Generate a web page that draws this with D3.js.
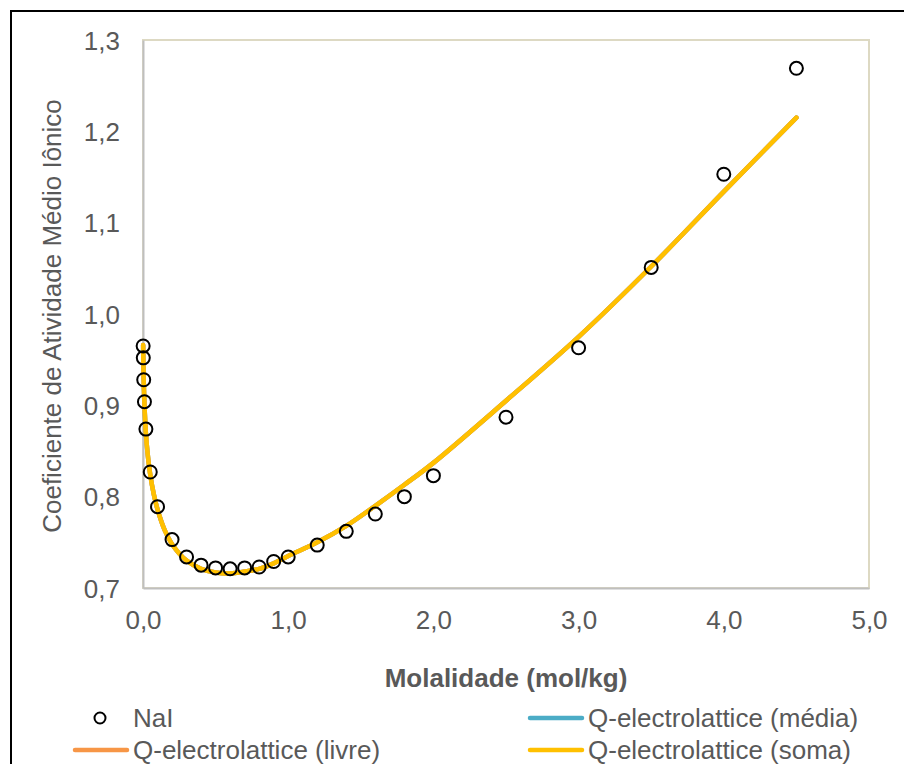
<!DOCTYPE html>
<html>
<head>
<meta charset="utf-8">
<script src="https://cdn.jsdelivr.net/npm/d3@7"></script>
<style>
  html, body { margin: 0; padding: 0; background: #fff; }
  svg { display: block; }
  text { font-family: "Liberation Sans", Arial, sans-serif; fill: #595959; }
</style>
</head>
<body>
<svg id="chart" width="904" height="764"></svg>
<script>
// Experimental mean ionic activity coefficient of NaI
const molalityExp = [0.001, 0.002, 0.005, 0.01, 0.02, 0.05, 0.1, 0.2, 0.3, 0.4, 0.5, 0.6, 0.7, 0.8, 0.9, 1.0, 1.2, 1.4, 1.6, 1.8, 2.0, 2.5, 3.0, 3.5, 4.0, 4.5];
const gammaExp    = [0.965, 0.952, 0.928, 0.904, 0.874, 0.827, 0.789, 0.753, 0.734, 0.725, 0.722, 0.721, 0.722, 0.723, 0.729, 0.734, 0.747, 0.762, 0.781, 0.800, 0.823, 0.887, 0.963, 1.051, 1.153, 1.269];

// Q-electrolattice model curve (the three variants coincide)
const molalityModel = [0.001, 0.002, 0.005, 0.01, 0.02, 0.03, 0.05, 0.075, 0.1, 0.15, 0.2, 0.3, 0.4, 0.5, 0.6, 0.7, 0.8, 0.9, 1.0, 1.2, 1.4, 1.6, 1.8, 2.0, 2.5, 3.0, 3.5, 4.0, 4.5];
const gammaMedia = [0.966, 0.952, 0.927, 0.901, 0.869, 0.850, 0.824, 0.802, 0.786, 0.763, 0.748, 0.730, 0.721, 0.717, 0.716, 0.718, 0.721, 0.727, 0.735, 0.750, 0.768, 0.790, 0.813, 0.837, 0.905, 0.975, 1.052, 1.134, 1.215];
const gammaLivre = [0.966, 0.952, 0.927, 0.901, 0.869, 0.850, 0.824, 0.802, 0.786, 0.763, 0.748, 0.730, 0.721, 0.717, 0.716, 0.718, 0.721, 0.727, 0.735, 0.750, 0.768, 0.790, 0.813, 0.837, 0.905, 0.975, 1.052, 1.134, 1.215];
const gammaSoma  = [0.966, 0.952, 0.927, 0.901, 0.869, 0.850, 0.824, 0.802, 0.786, 0.763, 0.748, 0.730, 0.721, 0.717, 0.716, 0.718, 0.721, 0.727, 0.735, 0.750, 0.768, 0.790, 0.813, 0.837, 0.905, 0.975, 1.052, 1.134, 1.215];

const xTicks = [0, 1, 2, 3, 4, 5];
const yTicks = [0.7, 0.8, 0.9, 1.0, 1.1, 1.2, 1.3];

const modelSeries = [
  { name: "Q-electrolattice (média)", values: gammaMedia, color: "#4BACC6" },
  { name: "Q-electrolattice (livre)", values: gammaLivre, color: "#F79646" },
  { name: "Q-electrolattice (soma)",  values: gammaSoma,  color: "#FFC000" }
];

const fmt = v => d3.format(".1f")(v).replace(".", ",");

const svg = d3.select("#chart");

// outer chart frame
svg.append("rect")
  .attr("x", 11).attr("y", 11)
  .attr("width", 1000).attr("height", 1000)
  .attr("fill", "#fff").attr("stroke", "#000").attr("stroke-width", 2);

const plot = { left: 143, right: 869, top: 40, bottom: 588 };

const x = d3.scaleLinear().domain([0, 5]).range([plot.left, plot.right]);
const y = d3.scaleLinear().domain([0.7, 1.3]).range([plot.bottom, plot.top]);

// plot area border
svg.append("rect")
  .attr("x", plot.left).attr("y", plot.top)
  .attr("width", plot.right - plot.left).attr("height", plot.bottom - plot.top)
  .attr("fill", "none").attr("stroke", "#DDD9C3").attr("stroke-width", 2);

// axes
const xAxis = d3.axisBottom(x).tickValues(xTicks).tickFormat(fmt).tickSize(0).tickPadding(23);
const yAxis = d3.axisLeft(y).tickValues(yTicks).tickFormat(fmt).tickSize(0).tickPadding(23);

const gx = svg.append("g").attr("transform", `translate(0,${plot.bottom})`).call(xAxis);
const gy = svg.append("g").attr("transform", `translate(${plot.left},0)`).call(yAxis);
[gx, gy].forEach(g => {
  g.select(".domain").attr("stroke", "#BFBFBF").attr("stroke-width", 2);
  g.selectAll("text").attr("font-size", 26).attr("fill", "#595959")
    .style("font-family", "'Liberation Sans', Arial, sans-serif");
});
gy.selectAll("text").attr("dy", "0.35em");

// axis titles
svg.append("text")
  .attr("x", (plot.left + plot.right) / 2).attr("y", 687)
  .attr("text-anchor", "middle").attr("font-size", 26).attr("font-weight", "bold")
  .text("Molalidade (mol/kg)");

svg.append("text")
  .attr("transform", `translate(61,${(plot.top + plot.bottom) / 2 + 2}) rotate(-90)`)
  .attr("text-anchor", "middle").attr("font-size", 26)
  .text("Coeficiente de Atividade Médio Iônico");

// model curves (smoothed)
const line = d3.line()
  .x(d => x(d[0])).y(d => y(d[1]))
  .curve(d3.curveCatmullRom.alpha(0.5));

modelSeries.forEach(s => {
  svg.append("path")
    .datum(molalityModel.map((m, i) => [m, s.values[i]]))
    .attr("d", line)
    .attr("fill", "none")
    .attr("stroke", s.color)
    .attr("stroke-width", 4.5)
    .attr("stroke-linecap", "round")
    .attr("stroke-linejoin", "round");
});

// experimental points
svg.append("g").selectAll("circle")
  .data(molalityExp.map((m, i) => [m, gammaExp[i]]))
  .join("circle")
  .attr("cx", d => x(d[0])).attr("cy", d => y(d[1]))
  .attr("r", 6.5)
  .attr("fill", "none").attr("stroke", "#000").attr("stroke-width", 2);

// legend
const legend = svg.append("g");
const legendItems = [
  { type: "marker", name: "NaI", lx: 100, ly: 718 },
  { type: "line", name: modelSeries[0].name, color: modelSeries[0].color, lx: 530, ly: 718 },
  { type: "line", name: modelSeries[1].name, color: modelSeries[1].color, lx: 75, ly: 750 },
  { type: "line", name: modelSeries[2].name, color: modelSeries[2].color, lx: 530, ly: 750 }
];
legendItems.forEach(it => {
  if (it.type === "marker") {
    legend.append("circle").attr("cx", it.lx).attr("cy", it.ly).attr("r", 5.5)
      .attr("fill", "none").attr("stroke", "#000").attr("stroke-width", 2);
    legend.append("text").attr("x", it.lx + 33).attr("y", it.ly).attr("dy", "0.35em")
      .attr("font-size", 26).text(it.name);
  } else {
    legend.append("line").attr("x1", it.lx).attr("x2", it.lx + 52)
      .attr("y1", it.ly).attr("y2", it.ly)
      .attr("stroke", it.color).attr("stroke-width", 4.5).attr("stroke-linecap", "round");
    legend.append("text").attr("x", it.lx + 58).attr("y", it.ly).attr("dy", "0.35em")
      .attr("font-size", 26).text(it.name);
  }
});
</script>
</body>
</html>
